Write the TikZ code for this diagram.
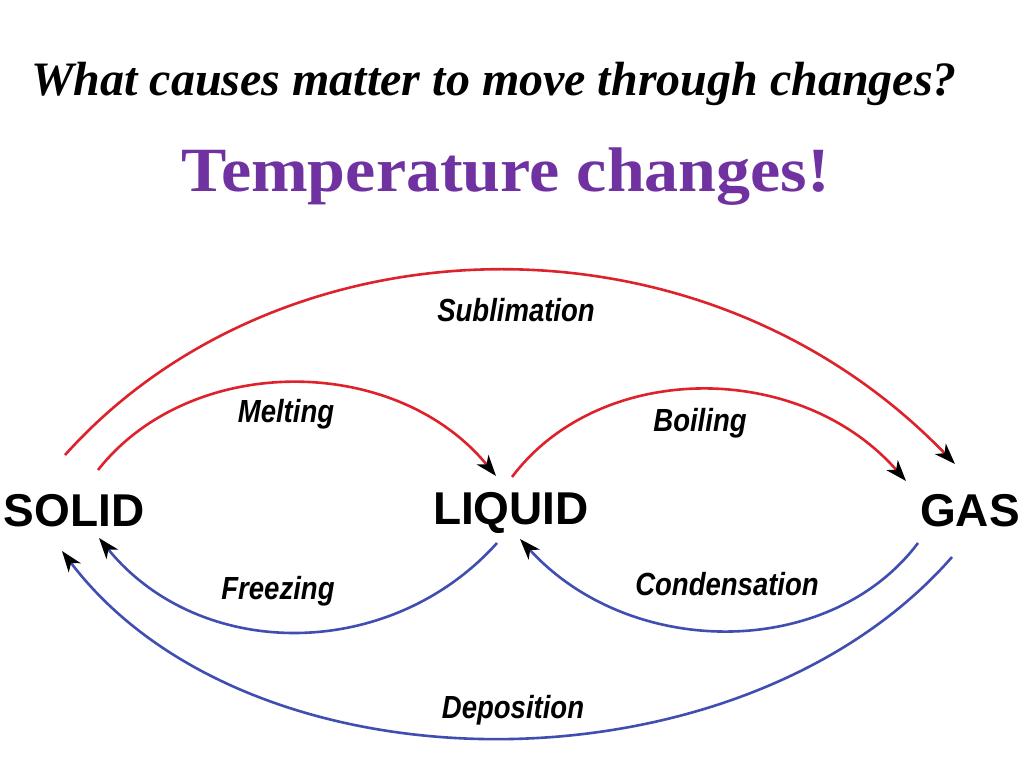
\documentclass[tikz,border=0pt]{standalone}
\usepackage{fontspec}
\setmainfont{Liberation Serif}
\setsansfont{Liberation Sans}
\usetikzlibrary{arrows.meta}
\definecolor{ttlpurple}{RGB}{112,50,160}
\definecolor{arrred}{RGB}{222,34,44}
\definecolor{arrblue}{RGB}{64,78,178}
\tikzset{
  state/.style={font=\sffamily\bfseries\fontsize{46}{46}\selectfont, anchor=base, inner sep=0pt},
  lbl/.style={font=\sffamily\bfseries\itshape\fontsize{32}{32}\selectfont, inner sep=0pt},
  heat/.style={draw=arrred, line width=2.6pt, -{Stealth[black,length=21pt,width=15pt,inset=6pt]}},
  cool/.style={draw=arrblue, line width=2.6pt, -{Stealth[black,length=21pt,width=15pt,inset=6pt]}},
}
\newcommand{\lab}[1]{\scalebox{0.86}[1]{#1}}
\begin{document}
\begin{tikzpicture}[x=1pt,y=-1pt]
\useasboundingbox[fill=white] (0,0) rectangle (1024,768);
% titles
\node[anchor=base, inner sep=0pt, font=\rmfamily\bfseries\itshape\fontsize{48}{48}\selectfont] (title) at (494,95) {What causes matter to move through changes?};
\node[anchor=base, inner sep=0pt, text=ttlpurple, font=\rmfamily\bfseries\fontsize{63}{63}\selectfont] (sub) at (506,191) {\scalebox{1.08}[1]{Temperature changes!}};
% states
\node[state] (solid) at (74,526) {SOLID};
\node[state] (liquid) at (511,524) {LIQUID};
\node[state] (gas) at (970,526) {GAS};
% end points
\coordinate (subS) at (65,455);  \coordinate (subE) at (955,464);
\coordinate (melS) at (98,470);  \coordinate (melE) at (496,476);
\coordinate (boiS) at (512,477); \coordinate (boiE) at (906,481);
\coordinate (freS) at (497,543); \coordinate (freE) at (99,538);
\coordinate (conS) at (918,543); \coordinate (conE) at (520,539);
\coordinate (depS) at (952,557); \coordinate (depE) at (62,551);
% arrows
\draw[heat] (subS) .. controls (280,215) and (700,200) .. (subE);
\draw[heat] (melS) .. controls (190,353) and (395,353) .. (melE);
\draw[heat] (boiS) .. controls (600,360) and (800,360) .. (boiE);
\draw[cool] (freS) .. controls (390,662) and (200,662) .. (freE);
\draw[cool] (conS) .. controls (830,660) and (630,660) .. (conE);
\draw[cool] (depS) .. controls (740,799) and (250,799) .. (depE);
% labels
\node[lbl] (lsub) at (516,310) {\lab{Sublimation}};
\node[lbl] (lmel) at (286,414) {\lab{Melting}};
\node[lbl] (lboi) at (700,423) {\lab{Boiling}};
\node[lbl] (lfre) at (278,591) {\lab{Freezing}};
\node[lbl] (lcon) at (727,584) {\lab{Condensation}};
\node[lbl] (ldep) at (513,710) {\lab{Deposition}};
\end{tikzpicture}
\end{document}
